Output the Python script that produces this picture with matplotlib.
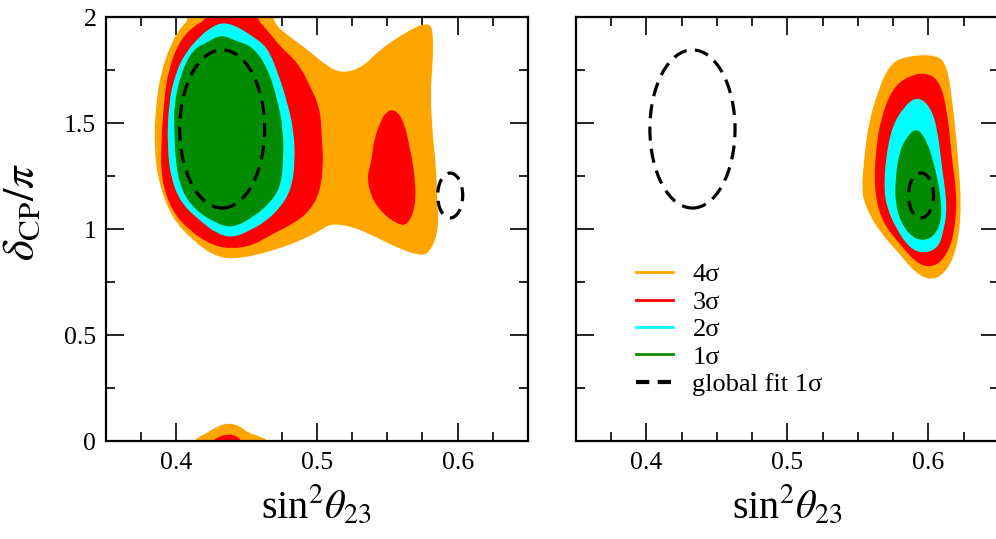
import numpy as np
import matplotlib
matplotlib.use('Agg')
import matplotlib.pyplot as plt
from matplotlib.patches import Ellipse, PathPatch
from matplotlib.path import Path
from matplotlib.lines import Line2D

plt.rcParams['font.family'] = ['Liberation Serif', 'DejaVu Serif']
plt.rcParams['mathtext.fontset'] = 'stix'

# allowed regions, left panel (x = sin^2 theta23, y = delta_CP/pi)
left_4s_x = [0.405, 0.4685, 0.4685, 0.478, 0.493, 0.507, 0.518, 0.5325, 0.545, 0.559, 0.571, 0.579,
             0.582, 0.582, 0.580, 0.582, 0.584, 0.585, 0.586, 0.580, 0.573, 0.557, 0.5375, 0.523,
             0.509, 0.502, 0.488, 0.4685, 0.445, 0.429, 0.412, 0.397, 0.388, 0.3846, 0.386, 0.390,
             0.397, 0.404, 0.4095]
left_4s_y = [2.05, 2.05, 1.972, 1.915, 1.844, 1.764, 1.731, 1.759, 1.844, 1.906, 1.953, 1.967,
             1.939, 1.797, 1.642, 1.420, 1.311, 1.151, 0.995, 0.892, 0.877, 0.915, 0.981, 1.019,
             1.028, 0.995, 0.948, 0.901, 0.863, 0.868, 0.948, 1.057, 1.217, 1.387, 1.594, 1.750,
             1.877, 1.953, 1.986]

left_3s_x = [0.422, 0.457, 0.457, 0.464, 0.4735, 0.486, 0.495, 0.502, 0.503, 0.504, 0.502, 0.495,
             0.483, 0.4685, 0.454, 0.440, 0.426, 0.4095, 0.397, 0.390, 0.3895, 0.392, 0.395, 0.402,
             0.412, 0.422]
left_3s_y = [2.05, 2.05, 1.986, 1.939, 1.858, 1.783, 1.670, 1.561, 1.420, 1.311, 1.184, 1.090,
             1.028, 0.981, 0.925, 0.910, 0.925, 0.995, 1.090, 1.231, 1.387, 1.623, 1.750, 1.877,
             1.953, 1.986]

left_3s_island_x = [0.555, 0.561, 0.566, 0.5695, 0.5695, 0.564, 0.557, 0.547, 0.539, 0.536, 0.539,
                    0.541, 0.546, 0.550]
left_3s_island_y = [1.561, 1.514, 1.373, 1.231, 1.104, 1.019, 1.028, 1.075, 1.151, 1.245, 1.311,
                    1.420, 1.514, 1.552]

left_2s_x = [0.433, 0.443, 0.454, 0.464, 0.471, 0.478, 0.483, 0.484, 0.481, 0.4735, 0.464, 0.452,
             0.440, 0.429, 0.417, 0.404, 0.397, 0.394, 0.395, 0.400, 0.407, 0.417, 0.425]
left_2s_y = [1.972, 1.953, 1.906, 1.858, 1.750, 1.608, 1.467, 1.311, 1.184, 1.104, 1.042, 0.995,
             0.962, 0.981, 1.042, 1.123, 1.231, 1.387, 1.594, 1.736, 1.830, 1.906, 1.948]

left_1s_x = [0.432, 0.443, 0.454, 0.464, 0.471, 0.4756, 0.4756, 0.4735, 0.466, 0.454, 0.440, 0.429,
             0.414, 0.404, 0.400, 0.399, 0.399, 0.404, 0.412, 0.422]
left_1s_y = [1.915, 1.882, 1.858, 1.764, 1.623, 1.467, 1.311, 1.198, 1.123, 1.057, 1.009, 1.028,
             1.090, 1.184, 1.311, 1.467, 1.594, 1.736, 1.844, 1.877]

# small pieces at delta = 0
bottom_4s_x = [0.412, 0.4225, 0.4295, 0.436, 0.4415, 0.4465, 0.450, 0.459, 0.465, 0.465, 0.412]
bottom_4s_y = [0.0, 0.038, 0.066, 0.080, 0.075, 0.061, 0.038, 0.019, 0.0, -0.05, -0.05]
bottom_3s_x = [0.426, 0.431, 0.4365, 0.442, 0.446, 0.446, 0.426]
bottom_3s_y = [0.0, 0.019, 0.028, 0.024, 0.0, -0.05, -0.05]

# right panel
right_4s_x = [0.553, 0.555, 0.558, 0.565, 0.572, 0.582, 0.606, 0.613, 0.617, 0.6205, 0.623, 0.620,
              0.613, 0.603, 0.5915, 0.5795, 0.565, 0.556]
right_4s_y = [1.184, 1.340, 1.500, 1.656, 1.764, 1.811, 1.821, 1.764, 1.575, 1.340, 1.104, 0.915,
              0.807, 0.759, 0.792, 0.887, 0.995, 1.104]

right_3s_x = [0.562, 0.563, 0.567, 0.5745, 0.585, 0.599, 0.608, 0.613, 0.616, 0.620, 0.617, 0.610,
              0.601, 0.5915, 0.5795, 0.567]
right_3s_y = [1.184, 1.373, 1.528, 1.656, 1.717, 1.736, 1.689, 1.547, 1.340, 1.137, 0.948, 0.854,
              0.821, 0.844, 0.934, 1.042]

right_2s_x = [0.569, 0.570, 0.5745, 0.583, 0.592, 0.601, 0.606, 0.609, 0.613, 0.610, 0.606, 0.596,
              0.5865, 0.577, 0.571]
right_2s_y = [1.184, 1.325, 1.481, 1.575, 1.623, 1.575, 1.467, 1.292, 1.104, 0.981, 0.910, 0.887,
              0.915, 1.009, 1.104]

right_1s_x = [0.577, 0.5795, 0.585, 0.592, 0.599, 0.604, 0.608, 0.609, 0.604, 0.597, 0.589, 0.581,
              0.577]
right_1s_y = [1.231, 1.358, 1.434, 1.476, 1.406, 1.292, 1.170, 1.042, 0.972, 0.948, 0.962, 1.028,
              1.123]

# global fit 1 sigma (same in both panels)
gf_x = [0.4326, 0.5947]
gf_y = [1.472, 1.158]
gf_w = [0.0604, 0.0178]
gf_h = [0.746, 0.212]

levels = ['4σ', '3σ', '2σ', '1σ']
colors = {'4σ': '#ffa500', '3σ': '#ff0000', '2σ': '#00ffff', '1σ': '#008b00'}

left_regions = [('4σ', left_4s_x, left_4s_y), ('4σ', bottom_4s_x, bottom_4s_y),
                ('3σ', left_3s_x, left_3s_y), ('3σ', left_3s_island_x, left_3s_island_y),
                ('3σ', bottom_3s_x, bottom_3s_y),
                ('2σ', left_2s_x, left_2s_y), ('1σ', left_1s_x, left_1s_y)]
right_regions = [('4σ', right_4s_x, right_4s_y), ('3σ', right_3s_x, right_3s_y),
                 ('2σ', right_2s_x, right_2s_y), ('1σ', right_1s_x, right_1s_y)]


def smooth_path(xs, ys):
    # closed quadratic bezier outline, the read points act as control points
    pts = np.column_stack([xs, ys])
    nxt = np.roll(pts, -1, axis=0)
    mids = (pts + nxt) / 2
    verts = [mids[-1]]
    codes = [Path.MOVETO]
    for p, m in zip(pts, mids):
        verts += [p, m]
        codes += [Path.CURVE3, Path.CURVE3]
    verts.append(mids[-1])
    codes.append(Path.CLOSEPOLY)
    return Path(verts, codes)


fig = plt.figure(figsize=(9.96, 5.39), dpi=100)
ax1 = fig.add_axes([0.1064, 0.1818, 0.4237, 0.7866])
ax2 = fig.add_axes([0.5783, 0.1818, 0.4247, 0.7866])


def draw_panel(ax, regions):
    for lev, xs, ys in regions:
        c = colors[lev]
        ax.add_patch(PathPatch(smooth_path(xs, ys), facecolor=c, edgecolor=c,
                               linewidth=1.0, zorder=2))
    for x, y, w, h in zip(gf_x, gf_y, gf_w, gf_h):
        e = Ellipse((x, y), w, h, fill=False, edgecolor='black', linewidth=2.3,
                    linestyle=(0, (4.4, 2.6)), zorder=4)
        ax.add_patch(e)
    ax.set_xlim(0.35, 0.65)
    ax.set_ylim(0, 2)
    ax.set_xticks([0.4, 0.5, 0.6])
    ax.set_xticks(np.arange(0.375, 0.65, 0.025), minor=True)
    ax.set_yticks([0, 0.5, 1, 1.5, 2])
    ax.set_yticks(np.arange(0, 2.01, 0.25), minor=True)
    ax.set_xticklabels(['0.4', '0.5', '0.6'])
    ax.tick_params(which='both', direction='in', top=True, right=True, width=1.2,
                   labelsize=18.5)
    ax.tick_params(which='major', length=13)
    ax.tick_params(which='minor', length=6.5)
    ax.tick_params(axis='x', pad=8)
    ax.tick_params(axis='y', pad=7)
    for s in ax.spines.values():
        s.set_linewidth(1.6)
    ax.set_xlabel(r'sin$^{2}\theta_{23}$', fontsize=29, labelpad=7)


draw_panel(ax1, left_regions)
draw_panel(ax2, right_regions)

ax1.set_yticklabels(['0', '0.5', '1', '1.5', '2'])
ax1.set_ylabel(r'$\delta_{\rm CP}/\pi$', fontsize=32)
ax1.yaxis.set_label_coords(-0.15, 0.54)
ax2.set_yticklabels([])

handles = [Line2D([], [], color=colors[l], linewidth=2.0) for l in levels]
handles.append(Line2D([], [], color='black', linewidth=3.0, linestyle=(0, (3.2, 2.0))))
labels = levels + ['global fit 1σ']
ax2.legend(handles, labels, loc='upper left', bbox_to_anchor=(0.085, 0.476), frameon=False,
           fontsize=19, handlelength=1.4, handletextpad=0.75, labelspacing=0.15)

fig.savefig('out.png', dpi=100)
